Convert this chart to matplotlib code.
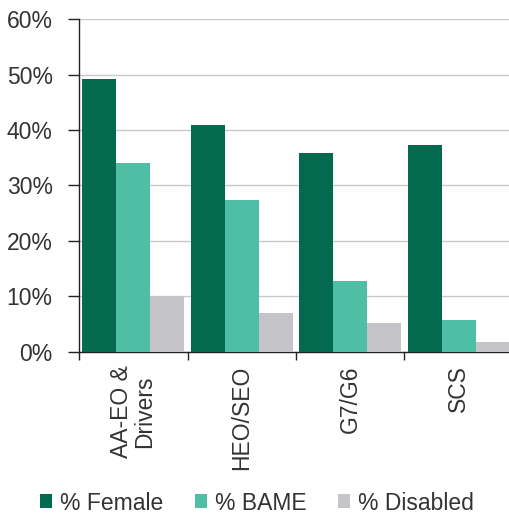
import matplotlib
matplotlib.use("Agg")
import matplotlib.pyplot as plt
import numpy as np
from matplotlib.patches import Patch

categories = ["AA-EO &\nDrivers", "HEO/SEO", "G7/G6", "SCS"]
series_names = ["% Female", "% BAME", "% Disabled"]
female = [49.2, 41.0, 35.8, 37.3]
bame = [34.1, 27.4, 12.7, 5.7]
disabled = [10.1, 6.9, 5.2, 1.7]
yticks = [0, 10, 20, 30, 40, 50, 60]
ytick_labels = ["0%", "10%", "20%", "30%", "40%", "50%", "60%"]

colors = ["#036a50", "#4ebfa4", "#c4c4c9"]
plt.rcParams['font.family'] = ['Liberation Sans', 'DejaVu Sans']
FS = 16.5
TC = "#333333"

fig = plt.figure(figsize=(5.10, 5.19), dpi=100)
W, H = 510, 519
left, right = 79, 513
bottom, top = 351.7, 19.3
ax = fig.add_axes([left / W, 1 - bottom / H, (right - left) / W, (bottom - top) / H])

x = np.arange(len(categories))
w = 0.313
for i, (vals, c, name) in enumerate(zip([female, bame, disabled], colors, series_names)):
    ax.bar(x + (i - 1) * w, vals, width=w, color=c, label=name, zorder=3)

ax.set_xlim(-0.5, len(categories) - 0.5)
ax.set_ylim(0, 60)
ax.set_yticks(yticks)
ax.set_yticklabels(ytick_labels, fontsize=FS, color=TC)
ax.grid(axis="y", color="#c8c8c8", linewidth=1.0, zorder=0)
ax.set_axisbelow(True)

ax.set_xticks(np.arange(len(categories) + 1) - 0.5)
ax.set_xticklabels([])
ax.set_xticks(x, minor=True)
ax.set_xticklabels(categories, minor=True, rotation=90, fontsize=FS, color=TC,
                   ha="center", va="top", multialignment="center", linespacing=1.0)
ax.tick_params(axis="x", which="minor", length=0, pad=10)
ax.tick_params(axis="x", which="major", length=6, width=1, direction="out", color="#222222")
ax.tick_params(axis="y", length=8, width=1, direction="out", color="#222222", pad=11)

for s in ["top", "right"]:
    ax.spines[s].set_visible(False)
for s in ["left", "bottom"]:
    ax.spines[s].set_color("#222222")
    ax.spines[s].set_linewidth(1.0)

handles = [Patch(facecolor=c, edgecolor="none") for c in colors]
fig.legend(handles, series_names, loc="center", bbox_to_anchor=(257 / W, 1 - 503 / H),
           ncol=3, frameon=False, fontsize=FS, handlelength=0.55, handleheight=0.55,
           handletextpad=0.35, columnspacing=1.35, labelcolor=TC)

fig.savefig("out.png", dpi=100)
